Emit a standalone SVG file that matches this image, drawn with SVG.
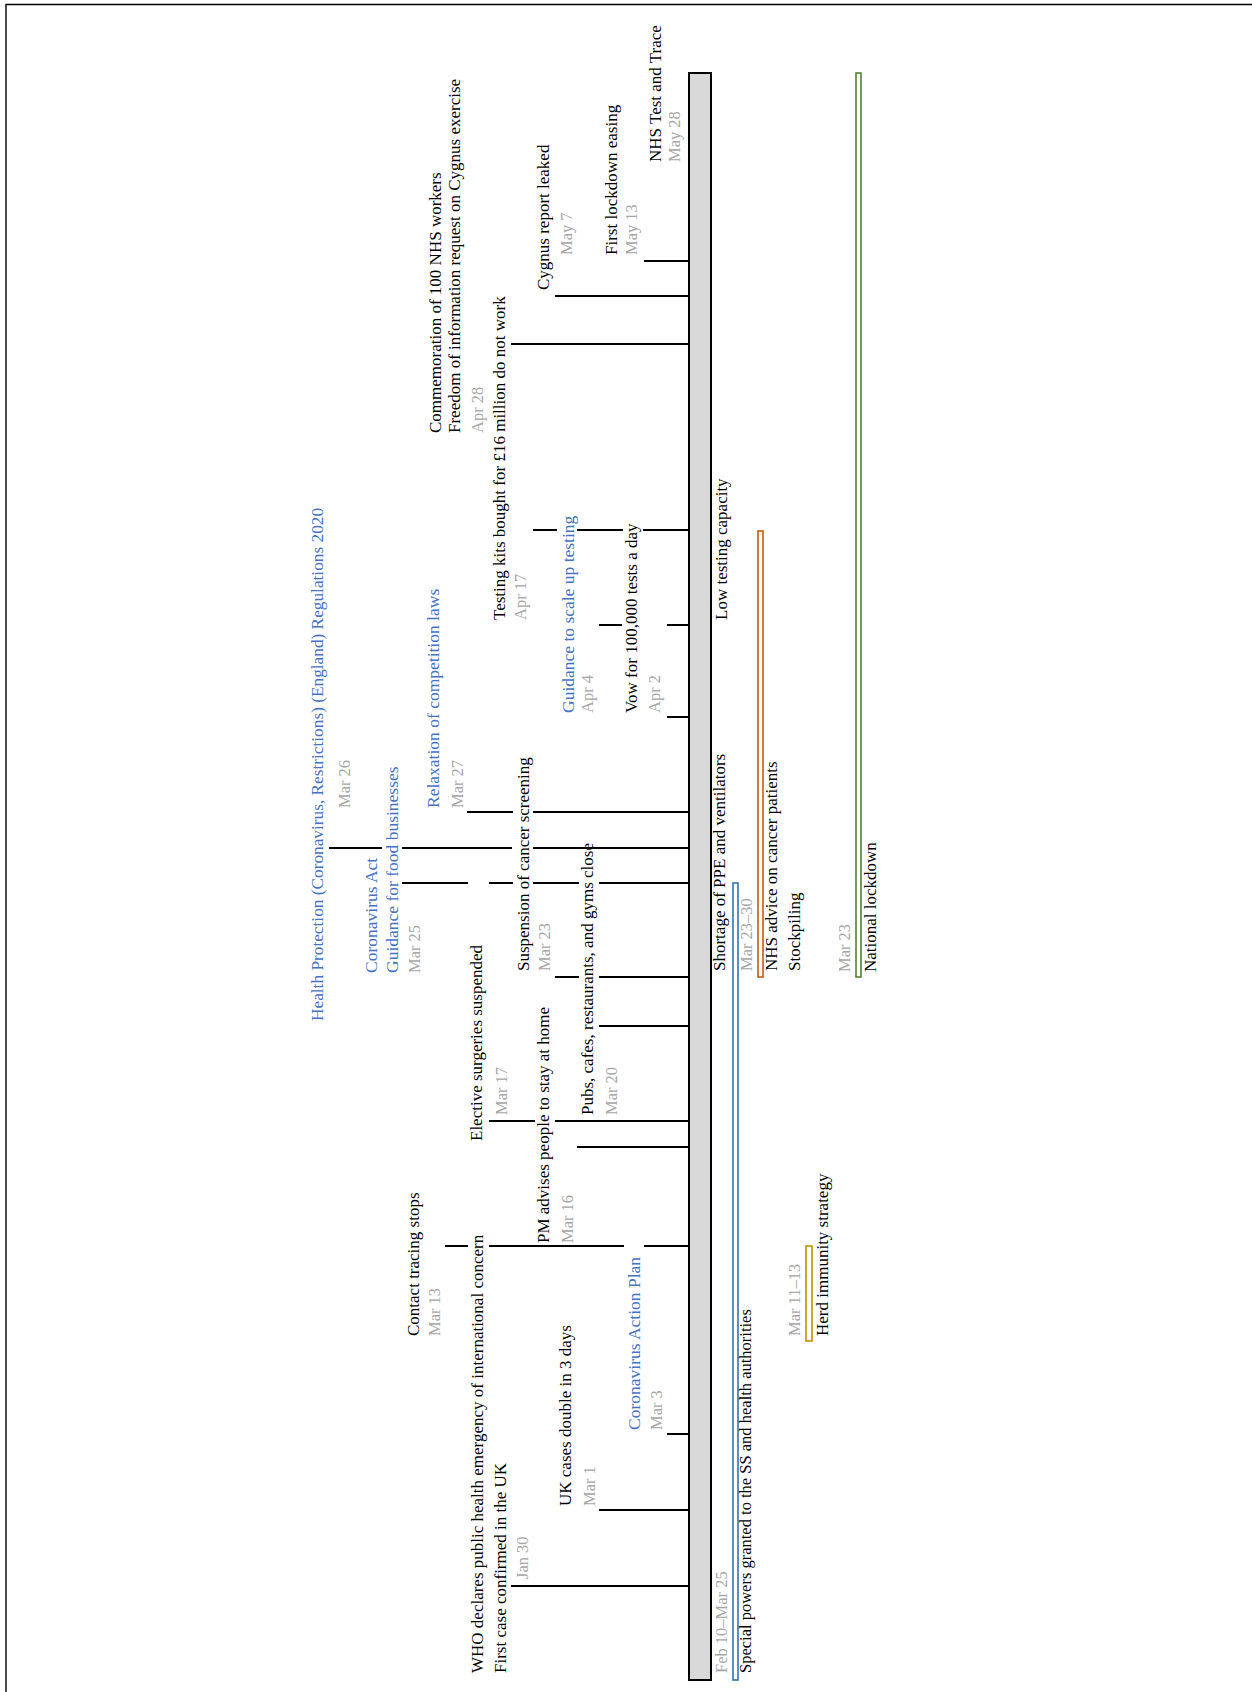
<svg xmlns="http://www.w3.org/2000/svg" width="1252" height="1692" viewBox="0 0 1252 1692">
<style>
text{font-family:"Liberation Serif","Times New Roman",serif;font-size:17px;fill:#000}
.b{fill:#4472c4;font-size:17.5px}
.d{fill:#a6a6a6;font-size:16.5px}
.tick{stroke:#000;stroke-width:2;fill:none}
.rng{fill:#fff;stroke-width:1.6}
</style>
<rect width="1252" height="1692" fill="#fff"/>
<path d="M6 1692V4.5H1252" fill="none" stroke="#000" stroke-width="1.4"/>
<g id="connectors">
<path class="tick" d="M511 1586H689M599 1510H689M667 1434H689M445 1246H468M489 1246H624M644 1246H689M577 1147H689M489 1121H535M555 1121H689M599 1026H689M555 977H579M599 977H689M402 883H468M489 883H513M533 883H579M599 883H689M329 848H382M402 848H512M533 848H689M467 812H513M533 812H689M667 717H689M599 625H622M667 625H689M533 530H557M577 530H623M643 530H689M511 344H689M555 296H689M644 261H689"/>
</g>
<g id="timeline-bar"><rect x="689" y="73" width="22" height="1607" fill="#d9d9d9" stroke="#000" stroke-width="2"/></g>
<g id="jan30"><text transform="translate(483 1673) rotate(-90)">WHO declares public health emergency of international concern</text><text transform="translate(506 1673) rotate(-90)">First case confirmed in the UK</text><text class="d" transform="translate(528 1579) rotate(-90)">Jan 30</text></g>
<g id="mar1"><text transform="translate(571 1506) rotate(-90)">UK cases double in 3 days</text><text class="d" transform="translate(595 1506) rotate(-90)">Mar 1</text></g>
<g id="mar3"><text class="b" transform="translate(640 1430) rotate(-90)">Coronavirus Action Plan</text><text class="d" transform="translate(662 1430) rotate(-90)">Mar 3</text></g>
<g id="mar13"><text transform="translate(419 1336) rotate(-90)">Contact tracing stops</text><text class="d" transform="translate(440 1336) rotate(-90)">Mar 13</text></g>
<g id="mar16"><text transform="translate(549 1243) rotate(-90)">PM advises people to stay at home</text><text class="d" transform="translate(573 1243) rotate(-90)">Mar 16</text></g>
<g id="mar17"><text transform="translate(482 1141) rotate(-90)">Elective surgeries suspended</text><text class="d" transform="translate(507 1115) rotate(-90)">Mar 17</text></g>
<g id="mar20"><text transform="translate(593 1115) rotate(-90)">Pubs, cafes, restaurants, and gyms close</text><text class="d" transform="translate(617 1115) rotate(-90)">Mar 20</text></g>
<g id="mar23"><text transform="translate(529 971) rotate(-90)">Suspension of cancer screening</text><text class="d" transform="translate(550 971) rotate(-90)">Mar 23</text></g>
<g id="mar25"><text class="b" transform="translate(377 973) rotate(-90)">Coronavirus Act</text><text class="b" transform="translate(398 973) rotate(-90)">Guidance for food businesses</text><text class="d" transform="translate(420 973) rotate(-90)">Mar 25</text></g>
<g id="mar26"><text class="b" style="font-size:17.3px" transform="translate(323 1021) rotate(-90)">Health Protection (Coronavirus, Restrictions) (England) Regulations 2020</text><text class="d" transform="translate(350 808) rotate(-90)">Mar 26</text></g>
<g id="mar27"><text class="b" transform="translate(439 808) rotate(-90)">Relaxation of competition laws</text><text class="d" transform="translate(463 808) rotate(-90)">Mar 27</text></g>
<g id="apr2"><text transform="translate(637 713) rotate(-90)">Vow for 100,000 tests a day</text><text class="d" transform="translate(660 713) rotate(-90)">Apr 2</text></g>
<g id="apr4"><text class="b" transform="translate(574 713) rotate(-90)">Guidance to scale up testing</text><text class="d" transform="translate(593 713) rotate(-90)">Apr 4</text></g>
<g id="apr17"><text transform="translate(505 620) rotate(-90)">Testing kits bought for £16 million do not work</text><text class="d" transform="translate(526 620) rotate(-90)">Apr 17</text></g>
<g id="apr28"><text transform="translate(441 433) rotate(-90)">Commemoration of 100 NHS workers</text><text transform="translate(460 433) rotate(-90)">Freedom of information request on Cygnus exercise</text><text class="d" transform="translate(483 433) rotate(-90)">Apr 28</text></g>
<g id="may7"><text transform="translate(549 290) rotate(-90)">Cygnus report leaked</text><text class="d" transform="translate(572 255) rotate(-90)">May 7</text></g>
<g id="may13"><text transform="translate(617 255) rotate(-90)">First lockdown easing</text><text class="d" transform="translate(637 255) rotate(-90)">May 13</text></g>
<g id="may28"><text transform="translate(661 162) rotate(-90)">NHS Test and Trace</text><text class="d" transform="translate(680 162) rotate(-90)">May 28</text></g>
<g id="special-powers"><rect class="rng" x="733" y="883" width="5" height="797" stroke="#2e75b6"/><text class="d" transform="translate(727 1673) rotate(-90)">Feb 10–Mar 25</text><text style="font-size:16.5px" transform="translate(751 1673) rotate(-90)">Special powers granted to the SS and health authorities</text></g>
<g id="ppe-shortage"><text transform="translate(725 971) rotate(-90)">Shortage of PPE and ventilators</text><text class="d" transform="translate(752 971) rotate(-90)">Mar 23–30</text></g>
<g id="low-testing"><text transform="translate(727 620) rotate(-90)">Low testing capacity</text></g>
<g id="nhs-advice"><rect class="rng" x="758" y="531" width="5" height="446" stroke="#c55a11"/><text transform="translate(777 971) rotate(-90)">NHS advice on cancer patients</text><text transform="translate(800 971) rotate(-90)">Stockpiling</text></g>
<g id="herd-immunity"><rect class="rng" x="806" y="1246" width="6" height="95" stroke="#bf9000"/><text class="d" transform="translate(800 1336) rotate(-90)">Mar 11–13</text><text transform="translate(828 1336) rotate(-90)">Herd immunity strategy</text></g>
<g id="national-lockdown"><rect class="rng" x="856" y="73" width="5" height="904" stroke="#548235"/><text class="d" transform="translate(850 972) rotate(-90)">Mar 23</text><text transform="translate(876 972) rotate(-90)">National lockdown</text></g>
</svg>
